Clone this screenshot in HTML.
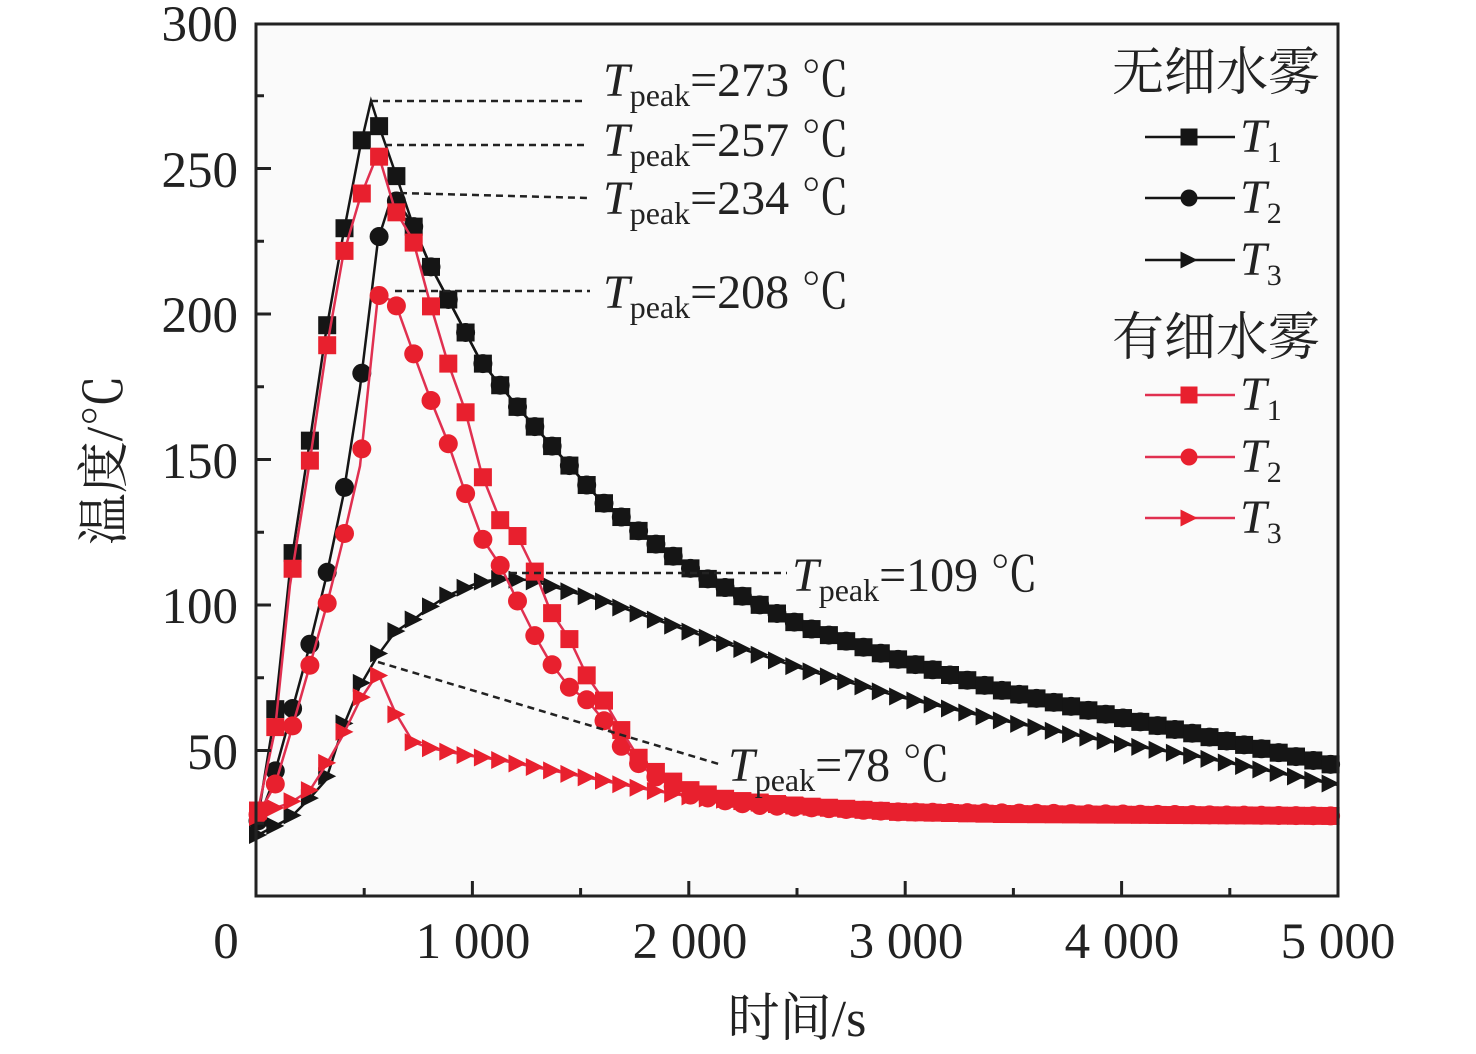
<!DOCTYPE html>
<html><head><meta charset="utf-8"><style>
html,body{margin:0;padding:0;background:#fff}
svg{display:block}
text{font-family:"Liberation Serif","Noto Serif CJK SC",serif;fill:#222}
</style></head><body>
<svg id="s" width="1476" height="1054" viewBox="0 0 1476 1054" xmlns="http://www.w3.org/2000/svg">
<rect x="256" y="24" width="1082" height="872" fill="#fafafa"/>
<g id="plot"></g>
<rect x="256" y="24" width="1082" height="872" fill="none" stroke="#222" stroke-width="3"/>
<g id="ticks" stroke="#222" stroke-width="3"></g>
<g font-size="51" text-anchor="end">
<text x="238" y="41">300</text><text x="238" y="187">250</text><text x="238" y="332">200</text>
<text x="238" y="478">150</text><text x="238" y="623">100</text><text x="238" y="769">50</text>
</g>
<g font-size="51" text-anchor="middle">
<text x="226" y="958">0</text><text x="473" y="958">1 000</text><text x="690" y="958">2 000</text>
<text x="906" y="958">3 000</text><text x="1122" y="958">4 000</text><text x="1338" y="958">5 000</text>
</g>
<text x="797" y="1036" font-size="52" text-anchor="middle">时间/s</text>
<text transform="translate(122,460) rotate(-90)" font-size="52" text-anchor="middle">温度/℃</text>
<g stroke="#222" stroke-width="2.5" stroke-dasharray="7,5" fill="none">
<line x1="371" y1="101" x2="587" y2="101"/><line x1="385" y1="145" x2="587" y2="145"/>
<line x1="400" y1="193" x2="587" y2="198"/><line x1="395" y1="291" x2="590" y2="291"/>
<line x1="510" y1="573" x2="787" y2="573"/><line x1="378" y1="662" x2="722" y2="765"/>
</g>
<g font-size="48">
<text x="603" y="96"><tspan font-style="italic">T</tspan><tspan font-size="32" dy="10">peak</tspan><tspan dy="-10">=273 ℃</tspan></text>
<text x="603" y="156"><tspan font-style="italic">T</tspan><tspan font-size="32" dy="10">peak</tspan><tspan dy="-10">=257 ℃</tspan></text>
<text x="603" y="214"><tspan font-style="italic">T</tspan><tspan font-size="32" dy="10">peak</tspan><tspan dy="-10">=234 ℃</tspan></text>
<text x="603" y="308"><tspan font-style="italic">T</tspan><tspan font-size="32" dy="10">peak</tspan><tspan dy="-10">=208 ℃</tspan></text>
<text x="792" y="591"><tspan font-style="italic">T</tspan><tspan font-size="32" dy="10">peak</tspan><tspan dy="-10">=109 ℃</tspan></text>
<text x="728" y="781"><tspan font-style="italic">T</tspan><tspan font-size="32" dy="10">peak</tspan><tspan dy="-10">=78 ℃</tspan></text>
</g>
<g font-size="52">
<text x="1112" y="90">无细水雾</text>
<text x="1112" y="355">有细水雾</text>
</g>
<g id="leg"></g>
</svg>
<script>
var NS="http://www.w3.org/2000/svg";
function el(p,n,a){var e=document.createElementNS(NS,n);for(var k in a)e.setAttribute(k,a[k]);p.appendChild(e);return e;}
var tk=document.getElementById("ticks");
for(var v=25;v<300;v+=25){var y=896-v*2.91;var L=(v%50==0)?15:8;el(tk,"line",{x1:256,y1:y,x2:256+L,y2:y});}
for(var t=500;t<5000;t+=500){var x=256+t*0.2164;var L=(t%1000==0)?15:8;el(tk,"line",{x1:x,y1:896,x2:x,y2:896-L});}
var BK="#151515",RD="#e8202e",RL="#e03050";
var bT1=[[256,830],[275,712],[290,570],[310,440],[326,332],[343,236],[360,148],[371,101],[378,123],[395,172],[413,225],[430,265],[447,297],[480,360],[520,410],[560,455],[600,500],[650,540],[700,575],[800,625],[900,660],[1000,690],[1100,713],[1200,735],[1338,766]];
var bT2=[[256,826],[270,790],[290,718],[308,652],[326,578],[343,497],[360,388],[378,240],[392,196],[400,205],[413,225],[430,265],[447,297],[480,360],[520,410],[560,455],[600,500],[650,540],[700,575],[800,625],[900,660],[1000,690],[1100,713],[1200,735],[1338,766]];
var bT3=[[256,836],[275,826],[290,818],[310,798],[326,780],[343,727],[360,686],[378,655],[395,632],[413,620],[430,607],[447,596],[465,588],[480,582],[500,579],[530,580],[600,600],[700,635],[800,668],[900,697],[1000,720],[1100,740],[1200,757],[1338,785]];
var rT1=[[256,820],[275,730],[290,585],[310,460],[326,352],[343,256],[360,198],[378,153],[395,210],[413,240],[430,303],[447,360],[465,410],[482,475],[500,520],[517,535],[535,572],[550,610],[570,640],[587,676],[605,702],[620,728],[640,760],[660,775],[690,790],[730,800],[800,806],[900,812],[1000,814],[1338,816]];
var rT2=[[256,818],[275,785],[290,735],[308,672],[326,608],[343,540],[360,466],[378,295],[395,302],[413,352],[430,398],[447,440],[465,492],[482,538],[500,565],[517,600],[535,636],[550,662],[570,688],[587,700],[605,722],[620,745],[640,765],[660,780],[690,795],[750,805],[900,812],[1338,816]];
var rT3=[[256,818],[275,808],[290,803],[310,790],[326,765],[343,735],[360,700],[378,673],[395,712],[413,742],[430,748],[465,755],[500,760],[550,770],[600,780],[650,790],[700,798],[800,805],[900,812],[1000,814],[1338,816]];
function yAt(p,x){for(var i=1;i<p.length;i++){if(x<=p[i][0]){var a=p[i-1],b=p[i];return a[1]+(b[1]-a[1])*(x-a[0])/(b[0]-a[0]);}}return p[p.length-1][1];}
function mk(g,type,x,y,c,s){
 if(type=="s")el(g,"rect",{x:x-s/2,y:y-s/2,width:s,height:s,fill:c});
 else if(type=="c")el(g,"circle",{cx:x,cy:y,r:s/2,fill:c});
 else el(g,"polygon",{points:(x-s/2)+","+(y-s/2)+" "+(x+s/2)+","+y+" "+(x-s/2)+","+(y+s/2),fill:c});
}
var pl=document.getElementById("plot");
function series(p,type,lc,mc){
 el(pl,"polyline",{points:p.map(function(q){return q.join(",")}).join(" "),fill:"none",stroke:lc,"stroke-width":2.5});
 var g=el(pl,"g",{});
 for(var x=258;x<=1338;x+=17.3){mk(g,type,x,yAt(p,x),mc,type=="c"?19:18);}
}
series(bT3,"t",BK,BK);series(bT2,"c",BK,BK);series(bT1,"s",BK,BK);
series(rT3,"t",RL,RD);series(rT2,"c",RL,RD);series(rT1,"s",RL,RD);
var lg=document.getElementById("leg");
var rows=[[137,"s",BK,BK,"1"],[198,"c",BK,BK,"2"],[260,"t",BK,BK,"3"],[395,"s",RL,RD,"1"],[457,"c",RL,RD,"2"],[518,"t",RL,RD,"3"]];
rows.forEach(function(r){
 el(lg,"line",{x1:1145,y1:r[0],x2:1235,y2:r[0],stroke:r[2],"stroke-width":2.5});
 mk(lg,r[1],1189,r[0],r[3],17);
 var t=el(lg,"text",{x:1240,y:r[0]+15,"font-size":48});
 var a=el(t,"tspan",{"font-style":"italic"});a.textContent="T";
 var b=el(t,"tspan",{"font-size":30,dy:10});b.textContent=r[4];
});
</script>
</body></html>
